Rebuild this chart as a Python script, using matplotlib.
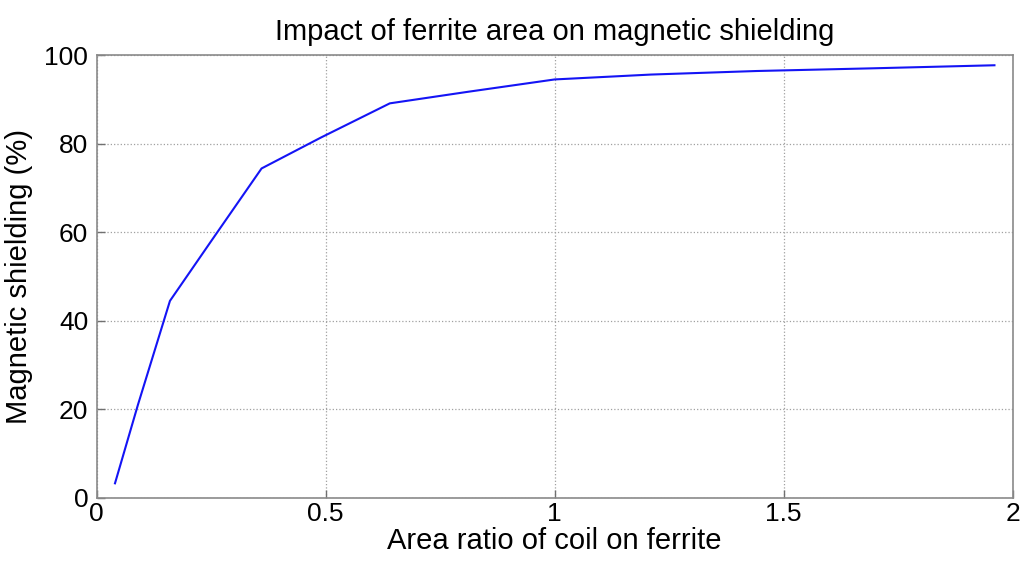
import matplotlib.pyplot as plt

plt.rcParams['font.family'] = ['Liberation Sans', 'DejaVu Sans']

# area ratio (side ratio squared) vs shielding
area_ratio = [0.04, 0.09, 0.16, 0.25, 0.36, 0.49, 0.64, 0.81, 1.00, 1.21, 1.44, 1.69, 1.96]
shielding = [3.3, 21.0, 44.5, 58.0, 74.4, 81.4, 89.1, 91.7, 94.5, 95.6, 96.4, 97.0, 97.7]

xticks = [0, 0.5, 1, 1.5, 2]
xticklabels = ['0', '0.5', '1', '1.5', '2']
yticks = [0, 20, 40, 60, 80, 100]

fig = plt.figure(figsize=(10.23, 5.62), dpi=100)
ax = fig.add_axes([0.0945, 0.114, 0.8955, 0.788])

ax.plot(area_ratio, shielding, color='#1414f5', lw=1.5)

ax.set_xlim(0, 2)
ax.set_ylim(0, 100)
ax.set_xticks(xticks)
ax.set_xticklabels(xticklabels)
ax.set_yticks(yticks)
ax.grid(True, ls=':', color='#a0a0a0', lw=0.9)
ax.tick_params(direction='in', length=6, width=1, color='#707070', labelsize=19)
ax.tick_params(axis='x', pad=3)
ax.tick_params(axis='y', pad=6)
for s in ax.spines.values():
    s.set_color('#8a8a8a')
    s.set_linewidth(1.2)

ax.set_title('Impact of ferrite area on magnetic shielding', fontsize=21, pad=11)
ax.set_xlabel('Area ratio of coil on ferrite', fontsize=21, labelpad=1)
ax.set_ylabel('Magnetic shielding (%)', fontsize=21, labelpad=8)

fig.savefig('out.png', dpi=100)
